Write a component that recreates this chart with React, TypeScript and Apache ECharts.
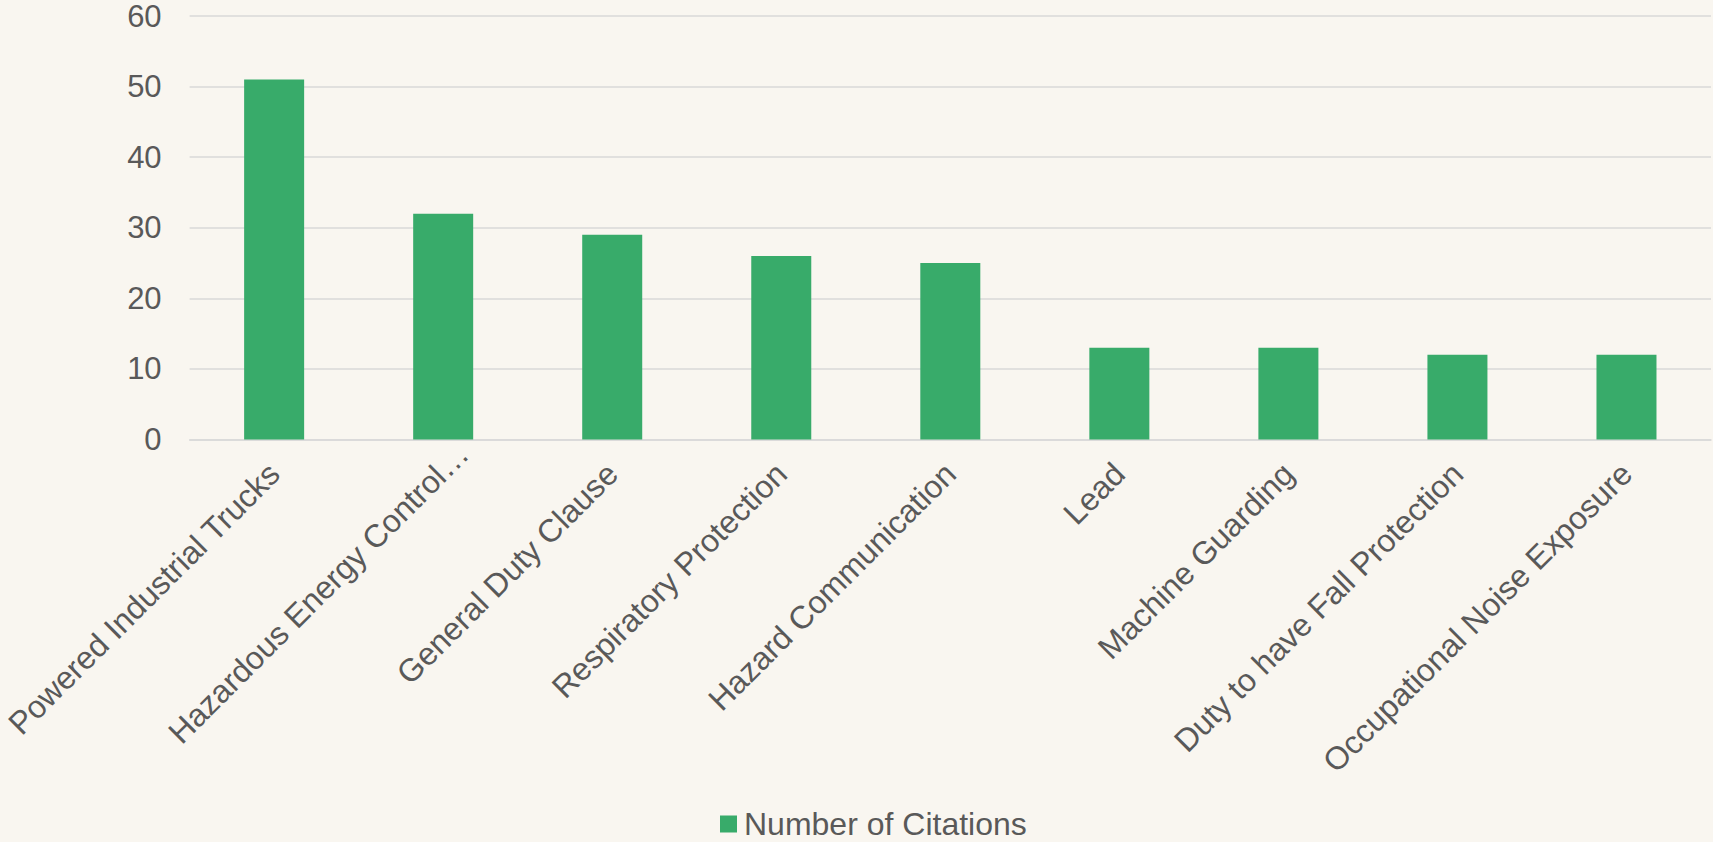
import React, { useEffect, useRef } from "react";
import * as echarts from "echarts";

const categories: string[] = [
  "Powered Industrial Trucks",
  "Hazardous Energy Control…",
  "General Duty Clause",
  "Respiratory Protection",
  "Hazard Communication",
  "Lead",
  "Machine Guarding",
  "Duty to have Fall Protection",
  "Occupational Noise Exposure",
];
const citations: number[] = [51, 32, 29, 26, 25, 13, 13, 12, 12];
const seriesName = "Number of Citations";
const yTicks = { min: 0, max: 60, interval: 10 };

const TEXT = "#595959";
const GRID = "#D9D9D9";
const GREEN = "#38AB6A";
const BG = "#F9F6F0";
const FONT = "'Liberation Sans', Arial, sans-serif";

export default function App() {
  const ref = useRef<HTMLDivElement>(null);
  useEffect(() => {
    if (!ref.current) return;
    const chart = echarts.init(ref.current, undefined, { renderer: "svg" });
    const xData = categories.map((c) =>
      c.endsWith("…") ? { value: c, textStyle: { padding: [0, -28, 0, 0] } } : c
    );
    chart.setOption({
      animation: false,
      backgroundColor: BG,
      textStyle: { fontFamily: FONT },
      grid: { left: 189, right: 2, top: 16, bottom: 402.5, containLabel: false },
      legend: {
        data: [seriesName],
        left: 720,
        top: 808,
        icon: "rect",
        itemWidth: 17,
        itemHeight: 17,
        itemGap: 10,
        padding: 0,
        textStyle: { color: TEXT, fontSize: 32, fontFamily: FONT, padding: [0, 0, 0, 2] },
      },
      xAxis: {
        type: "category",
        data: xData,
        axisLine: { show: true, lineStyle: { color: GRID, width: 1.5 } },
        axisTick: { show: false },
        axisLabel: {
          rotate: 45,
          interval: 0,
          margin: 29,
          color: TEXT,
          fontSize: 32,
          fontFamily: FONT,
        },
      },
      yAxis: {
        type: "value",
        min: yTicks.min,
        max: yTicks.max,
        interval: yTicks.interval,
        axisLine: { show: false },
        axisTick: { show: false },
        splitLine: { lineStyle: { color: GRID, width: 1.5 } },
        axisLabel: { color: TEXT, fontSize: 31, fontFamily: FONT, margin: 28 },
      },
      series: [
        {
          name: seriesName,
          type: "bar",
          data: citations,
          barWidth: "35.5%",
          itemStyle: { color: GREEN },
        },
      ],
    });
    return () => chart.dispose();
  }, []);
  return (
    <div
      ref={ref}
      style={{ position: "absolute", left: 0, top: 0, width: 1713, height: 842 }}
    />
  );
}
